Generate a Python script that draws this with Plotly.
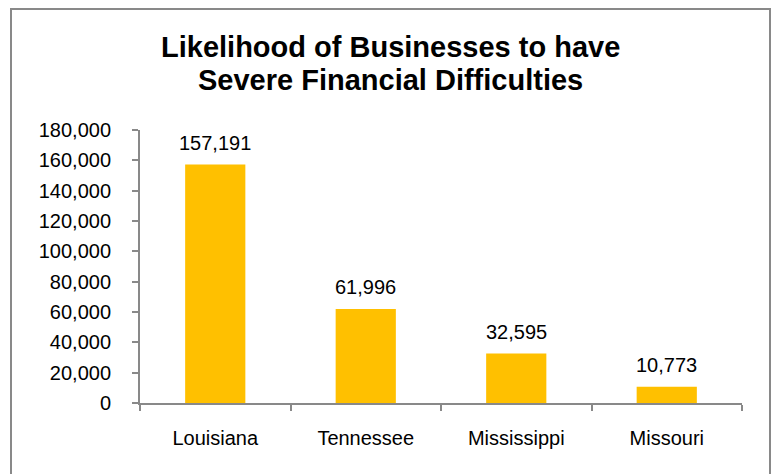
import plotly.graph_objects as go

# Chart data
states = ["Louisiana", "Tennessee", "Mississippi", "Missouri"]
businesses = [157191, 61996, 32595, 10773]
y_ticks = [0, 20000, 40000, 60000, 80000, 100000, 120000, 140000, 160000, 180000]
title_lines = ["Likelihood of Businesses to have", "Severe Financial Difficulties"]

W, H = 775, 474
M_L, M_R, M_T, M_B = 140, 33, 130, 71
PW, PH = W - M_L - M_R, H - M_T - M_B

FONT = "Liberation Sans, Arial, sans-serif"
AXIS_GREY = "#898989"
BAR_GOLD = "#FFC000"


def px_x(x):
    return (x - M_L) / PW


def px_y(y):
    return (H - M_B - y) / PH


fig = go.Figure(
    go.Bar(
        x=states,
        y=businesses,
        width=0.4,
        marker=dict(color=BAR_GOLD, line=dict(width=0)),
        hoverinfo="x+y",
    )
)

annotations = []
# value labels above each bar
for s, v in zip(states, businesses):
    annotations.append(dict(
        x=s, y=v, xref="x", yref="y",
        text=f"{v:,}", showarrow=False,
        yanchor="bottom", yshift=9,
        font=dict(family=FONT, size=20, color="#000000"),
    ))

# two-line bold title
for i, line in enumerate(title_lines):
    annotations.append(dict(
        x=px_x(W / 2 + 3), y=px_y(47 + 33 * i), xref="paper", yref="paper",
        text=f"<b>{line}</b>", showarrow=False,
        xanchor="center", yanchor="middle",
        font=dict(family=FONT, size=29, color="#000000"),
    ))

fig.update_layout(
    width=W, height=H,
    margin=dict(l=M_L, r=M_R, t=M_T, b=M_B, pad=0),
    paper_bgcolor="#FFFFFF",
    plot_bgcolor="#FFFFFF",
    showlegend=False,
    bargap=0.6,
    font=dict(family=FONT, size=20, color="#000000"),
    annotations=annotations,
    shapes=[dict(
        type="rect", xref="paper", yref="paper",
        x0=px_x(11), x1=px_x(770), y0=px_y(H + 10), y1=px_y(9),
        line=dict(color=AXIS_GREY, width=2), fillcolor="rgba(0,0,0,0)",
        layer="below",
    )],
)

fig.update_xaxes(
    type="category",
    showgrid=False,
    showline=True, linecolor=AXIS_GREY, linewidth=2,
    ticks="outside", tickson="boundaries", ticklen=6, tickwidth=2, tickcolor=AXIS_GREY,
    ticklabelstandoff=16,
    tickfont=dict(family=FONT, size=20, color="#000000"),
    range=[-0.5, 3.5],
    fixedrange=True,
)

fig.update_yaxes(
    range=[0, 180000],
    tickvals=y_ticks,
    tickformat=",",
    showgrid=False, zeroline=False,
    showline=True, linecolor=AXIS_GREY, linewidth=2,
    ticks="outside", ticklen=6, tickwidth=2, tickcolor=AXIS_GREY,
    ticklabelstandoff=17,
    tickfont=dict(family=FONT, size=20, color="#000000"),
    fixedrange=True,
)

fig.write_html("out.html", config={"displayModeBar": False})
